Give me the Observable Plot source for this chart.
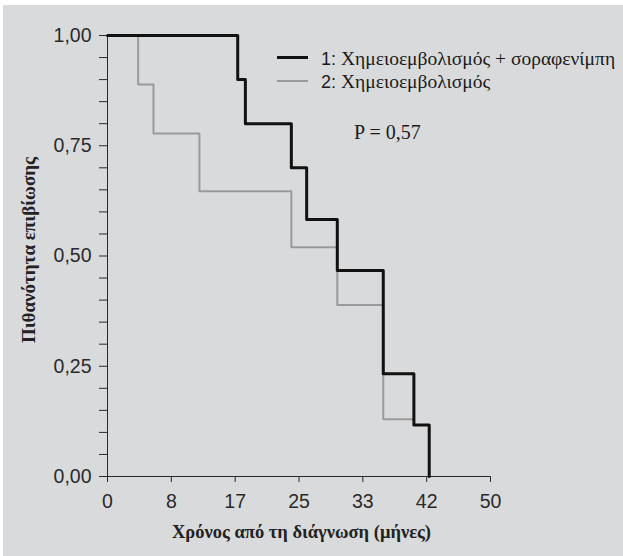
<!DOCTYPE html>
<html>
<head>
<meta charset="utf-8">
<script src="https://cdn.jsdelivr.net/npm/d3@7"></script>
<script src="https://cdn.jsdelivr.net/npm/@observablehq/plot@0.6"></script>
<style>
  html, body { margin: 0; padding: 0; background: #ffffff; }
  #wrap { position: relative; width: 623px; height: 556px; overflow: hidden; background: #ffffff; }
  #chart { position: absolute; left: 3px; top: 5px; }
  .lg { position: absolute; white-space: nowrap; line-height: 22px; color: #1a1a1a; }
  .sans { font-family: "Liberation Sans", Arial, sans-serif; }
  .serif { font-family: "Liberation Serif", "Times New Roman", serif; }
  .sw { position: absolute; }
</style>
</head>
<body>
<div id="wrap">
  <div id="chart"></div>
  <div class="sw" style="left:277px; top:56px; width:31px; height:3px; background:#111;"></div>
  <div class="sw" style="left:277px; top:80px; width:31px; height:2px; background:#9a9a9a;"></div>
  <div class="lg" id="lg1" style="left:321px; top:48px; font-size:18px;"></div>
  <div class="lg" id="lg2" style="left:321px; top:70.5px; font-size:18px;"></div>
  <div class="lg serif" id="pval" style="left:354px; top:120.5px; font-size:20px;"></div>
</div>
<script>
// Group 1: Χημειοεμβολισμός + σοραφενίμπη (black)
const months1 = [0, 17, 18, 24, 26, 30, 36, 40, 42];
const surv1   = [1.00, 0.90, 0.80, 0.70, 0.583, 0.467, 0.233, 0.117, 0.00];
// Group 2: Χημειοεμβολισμός (grey)
const months2 = [0, 4, 6, 12, 24, 30, 36, 40];
const surv2   = [1.00, 0.889, 0.778, 0.647, 0.52, 0.389, 0.13, 0.13];

const seriesNames = ["Χημειοεμβολισμός + σοραφενίμπη", "Χημειοεμβολισμός"];
const pText = "P = 0,57";

const xTickLabels = ["0", "8", "17", "25", "33", "42", "50"];
const xTickValues = xTickLabels.map((_, i) => i * 50 / 6);
const yTickValues = d3.range(0, 21).map(i => i / 20);
const yMajorLabels = new Map([[0, "0,00"], [5, "0,25"], [10, "0,50"], [15, "0,75"], [20, "1,00"]]);

const xTitle = "Χρόνος από τη διάγνωση (μήνες)";
const yTitle = "Πιθανότητα επιβίωσης";

const data1 = months1.map((t, i) => ({t, s: surv1[i]}));
const data2 = months2.map((t, i) => ({t, s: surv2[i]}));

const plot = Plot.plot({
  width: 620,
  height: 551,
  marginLeft: 104,
  marginRight: 133,
  marginTop: 30,
  marginBottom: 80,
  style: {
    background: "#d9dadc",
    color: "#2a2a2a",
    fontFamily: "'Liberation Sans', Arial, sans-serif",
    fontSize: "19.5px"
  },
  x: {
    domain: [0, 50],
    ticks: xTickValues,
    tickFormat: (d, i) => xTickLabels[i],
    tickSize: 6,
    tickPadding: 12,
    line: true,
    label: null
  },
  y: {
    domain: [0, 1],
    ticks: yTickValues,
    tickFormat: (d, i) => yMajorLabels.get(i) ?? "",
    tickSize: 8,
    tickPadding: 8,
    line: true,
    label: null
  },
  marks: [
    Plot.line(data2, {x: "t", y: "s", curve: "step-after", stroke: "#9a9a9a", strokeWidth: 2}),
    Plot.line(data1, {x: "t", y: "s", curve: "step-after", stroke: "#111111", strokeWidth: 3}),
    Plot.text([xTitle], {text: d => d, frameAnchor: "bottom", dx: 2.5, dy: 56, lineAnchor: "middle", textAnchor: "middle",
      fontFamily: "'Liberation Serif', 'Times New Roman', serif", fontWeight: "bold", fontSize: 18.5, fill: "#222"}),
    Plot.text([yTitle], {text: d => d, frameAnchor: "left", dx: -79, dy: -6, rotate: -90, lineAnchor: "middle", textAnchor: "middle",
      fontFamily: "'Liberation Serif', 'Times New Roman', serif", fontWeight: "bold", fontSize: 19, fill: "#222"})
  ]
});
plot.querySelectorAll('[aria-label="x-axis"] path, [aria-label="y-axis"] path').forEach(p => p.setAttribute("stroke-width", 1.8));
document.getElementById("chart").appendChild(plot);

function fillLegend(el, num, name) {
  const a = document.createElement("span");
  a.className = "sans";
  a.textContent = num + ": ";
  const b = document.createElement("span");
  b.className = "serif";
  b.style.fontSize = "19.5px";
  b.textContent = name;
  el.appendChild(a);
  el.appendChild(b);
}
fillLegend(document.getElementById("lg1"), 1, seriesNames[0]);
fillLegend(document.getElementById("lg2"), 2, seriesNames[1]);
document.getElementById("pval").textContent = pText;
</script>
</body>
</html>
